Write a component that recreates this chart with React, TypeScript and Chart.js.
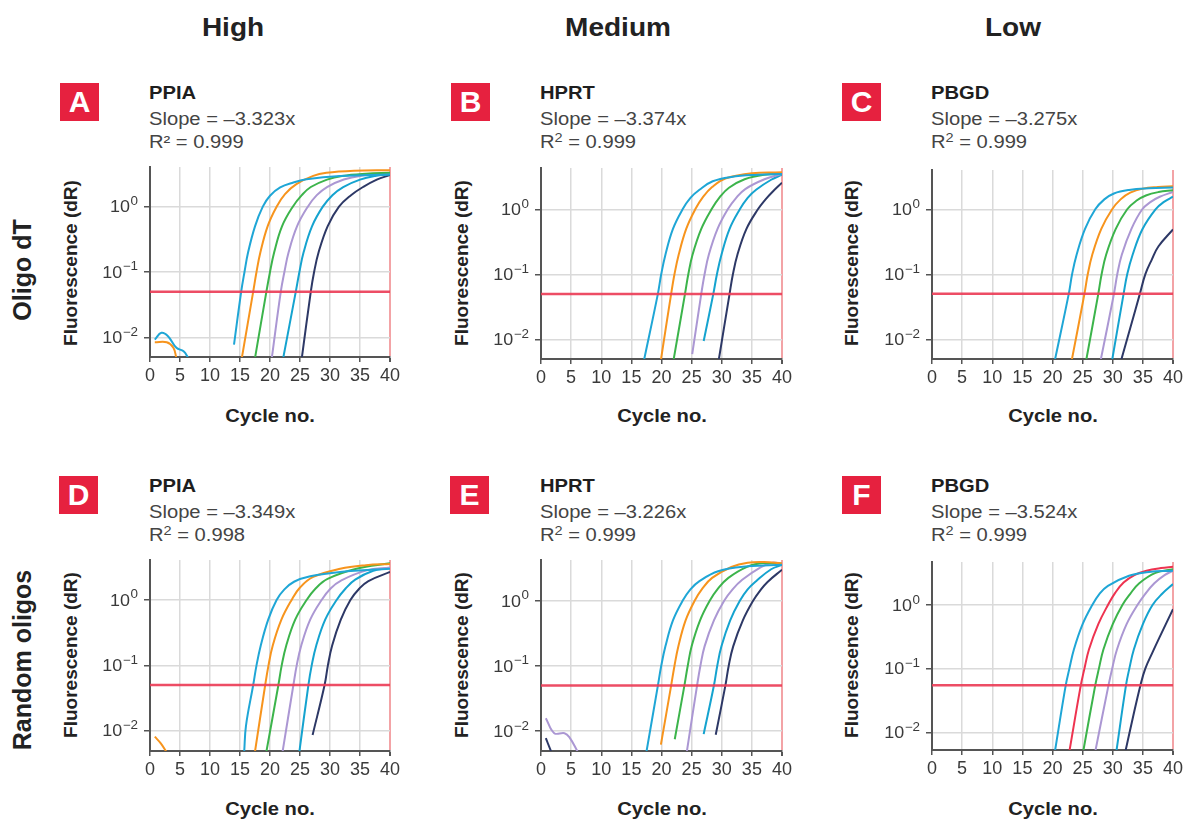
import React, { useEffect, useRef } from 'react';
import { Chart, registerables } from 'chart.js';
Chart.register(...registerables);

type Pt = [number, number];

// ---------- data ----------
const X_TICKS = [0, 5, 10, 15, 20, 25, 30, 35, 40];
const Y_TICKS = [0.01, 0.1, 1];
const Y_TICK_EXP = ['\u22122', '\u22121', '0'];
const COLUMN_HEADERS = ['High', 'Medium', 'Low'];
const ROW_LABELS = ['Oligo dT', 'Random oligos'];
const PANEL_LETTERS = ['A', 'B', 'C', 'D', 'E', 'F'];
const GENES = ['PPIA', 'HPRT', 'PBGD', 'PPIA', 'HPRT', 'PBGD'];
const SLOPES = ['\u20133.323x', '\u20133.374x', '\u20133.275x', '\u20133.349x', '\u20133.226x', '\u20133.524x'];
const R2 = ['0.999', '0.999', '0.999', '0.998', '0.999', '0.999'];
const THRESHOLDS = [0.05, 0.05, 0.05, 0.05, 0.05, 0.055];
const Y_MIN = [0.00499, 0.00498, 0.00498, 0.00489, 0.00495, 0.00527];
const Y_MAX = [4.05, 4.32, 4.02, 4.09, 4.23, 4.74];

const A_CURVES: Pt[][] = [
  [[14.0, 0.0077], [15.2, 0.05], [15.75, 0.1], [16.35, 0.2], [17.5, 0.5], [18.8, 1.0], [20.0, 1.47], [21.7, 1.97], [23.9, 2.34], [26.1, 2.63], [31.7, 2.95], [40, 3.1]],
  [[15.3, 0.0048], [17.2, 0.05], [17.75, 0.1], [18.4, 0.2], [19.6, 0.5], [21.1, 1.0], [22.5, 1.56], [24.4, 2.21], [27.2, 2.96], [29.4, 3.3], [34.0, 3.55], [40, 3.62]],
  [[17.5, 0.0048], [19.4, 0.05], [20.0, 0.1], [20.7, 0.2], [22.0, 0.5], [23.8, 1.0], [25.3, 1.5], [26.8, 2.0], [29.5, 2.6], [32.0, 2.96], [36.0, 3.2], [40, 3.3]],
  [[20.3, 0.0048], [21.8, 0.05], [22.4, 0.1], [23.1, 0.2], [24.5, 0.5], [26.3, 1.0], [27.8, 1.5], [29.5, 2.0], [32.3, 2.6], [35.0, 2.96], [40, 3.2]],
  [[22.2, 0.0048], [24.3, 0.05], [24.9, 0.1], [25.6, 0.2], [27.0, 0.5], [28.8, 1.0], [30.4, 1.5], [32.2, 2.0], [35.0, 2.6], [37.5, 2.96], [40, 3.15]],
  [[25.3, 0.0048], [26.8, 0.05], [27.35, 0.1], [28.1, 0.2], [29.6, 0.5], [31.5, 1.0], [33.5, 1.5], [35.5, 2.0], [37.8, 2.6], [40, 3.05]],
];
const B_CURVES: Pt[][] = [
  [[17.1, 0.0048], [19.4, 0.05], [19.95, 0.1], [20.65, 0.2], [21.9, 0.5], [23.5, 1.0], [24.8, 1.5], [26.3, 2.0], [28.5, 2.7], [31.6, 3.15], [36.0, 3.4], [40, 3.5]],
  [[19.9, 0.0048], [21.6, 0.05], [22.15, 0.1], [22.85, 0.2], [24.1, 0.5], [25.6, 1.0], [26.9, 1.55], [28.4, 2.2], [30.7, 3.0], [35.0, 3.6], [40, 3.7]],
  [[22.0, 0.0048], [23.9, 0.05], [24.45, 0.1], [25.15, 0.2], [26.6, 0.5], [28.3, 1.0], [29.7, 1.55], [31.2, 2.15], [33.8, 2.9], [37.0, 3.4], [40, 3.5]],
  [[25.1, 0.0059], [26.6, 0.05], [27.15, 0.1], [27.85, 0.2], [29.3, 0.5], [31.0, 1.0], [32.4, 1.5], [33.9, 2.05], [37.1, 2.9], [40, 3.5]],
  [[27.0, 0.0094], [28.6, 0.05], [29.2, 0.1], [29.95, 0.2], [31.3, 0.5], [33.0, 1.0], [34.3, 1.5], [35.7, 2.0], [38.2, 2.85], [40, 3.4]],
  [[29.5, 0.0048], [31.3, 0.05], [31.85, 0.1], [32.6, 0.2], [34.1, 0.5], [36.0, 1.0], [37.2, 1.4], [38.4, 1.85], [40, 2.57]],
];
const C_CURVES: Pt[][] = [
  [[20.4, 0.0048], [22.7, 0.05], [23.25, 0.1], [24.0, 0.2], [25.4, 0.5], [27.1, 1.0], [28.6, 1.42], [30.2, 1.75], [32.7, 1.98], [36.0, 2.1], [40, 2.16]],
  [[23.2, 0.0048], [25.3, 0.05], [25.85, 0.1], [26.6, 0.2], [28.1, 0.5], [29.9, 1.0], [31.3, 1.42], [32.9, 1.8], [35.0, 2.08], [37.5, 2.2], [40, 2.26]],
  [[25.6, 0.0048], [27.6, 0.05], [28.15, 0.1], [28.9, 0.2], [30.5, 0.5], [32.4, 1.0], [33.9, 1.35], [35.5, 1.63], [37.6, 1.84], [40, 1.97]],
  [[28.0, 0.0048], [30.2, 0.05], [30.75, 0.1], [31.5, 0.2], [33.1, 0.5], [34.9, 1.0], [36.3, 1.3], [37.8, 1.56], [40, 1.85]],
  [[29.9, 0.0048], [31.8, 0.05], [32.4, 0.1], [33.3, 0.2], [34.9, 0.49], [37.1, 1.0], [38.5, 1.3], [40, 1.56]],
  [[31.4, 0.0048], [33.0, 0.016], [34.5, 0.05], [35.4, 0.1], [36.5, 0.17], [37.6, 0.27], [40, 0.49]],
];
const D_CURVES: Pt[][] = [
  [[15.7, 0.0048], [16.0, 0.012], [17.2, 0.05], [17.75, 0.1], [18.45, 0.2], [19.7, 0.5], [21.1, 1.0], [22.4, 1.45], [24.0, 1.9], [26.7, 2.3], [31.7, 2.68], [40, 3.0]],
  [[17.5, 0.0048], [19.2, 0.05], [19.75, 0.1], [20.45, 0.2], [21.9, 0.5], [23.6, 1.0], [25.0, 1.55], [27.2, 2.25], [31.7, 3.0], [36.0, 3.4], [40, 3.55]],
  [[19.4, 0.0048], [21.4, 0.05], [21.95, 0.1], [22.7, 0.2], [24.2, 0.5], [26.1, 1.0], [27.6, 1.5], [29.6, 2.1], [34.4, 3.0], [40, 3.65]],
  [[22.1, 0.0048], [23.9, 0.05], [24.45, 0.1], [25.2, 0.2], [26.7, 0.5], [28.6, 1.0], [30.1, 1.5], [31.9, 2.0], [36.1, 2.84], [40, 3.15]],
  [[24.9, 0.0048], [26.4, 0.05], [26.95, 0.1], [27.7, 0.2], [29.2, 0.5], [31.1, 1.0], [32.6, 1.5], [34.2, 2.05], [37.2, 2.8], [40, 3.1]],
  [[27.1, 0.0086], [29.1, 0.05], [29.65, 0.1], [30.35, 0.2], [31.8, 0.5], [33.4, 1.0], [34.9, 1.5], [36.4, 1.95], [40, 2.68]],
];
const E_CURVES: Pt[][] = [
  [[17.5, 0.0048], [19.4, 0.05], [19.95, 0.1], [20.65, 0.2], [21.9, 0.5], [23.5, 1.0], [24.8, 1.5], [26.3, 2.0], [29.4, 2.84], [34.3, 3.38], [40, 3.58]],
  [[19.9, 0.0062], [21.6, 0.05], [22.15, 0.1], [22.8, 0.2], [24.0, 0.5], [25.5, 1.0], [26.8, 1.55], [28.4, 2.25], [31.6, 3.3], [34.3, 3.85], [37.0, 3.95], [40, 3.75]],
  [[22.2, 0.0075], [23.8, 0.05], [24.35, 0.1], [25.0, 0.2], [26.4, 0.5], [28.0, 1.0], [29.4, 1.55], [31.1, 2.25], [34.3, 3.35], [37.0, 3.8], [40, 3.7]],
  [[24.2, 0.0048], [25.9, 0.05], [26.45, 0.1], [27.15, 0.2], [28.7, 0.5], [30.4, 1.0], [31.8, 1.5], [33.4, 2.1], [36.5, 3.3], [38.4, 3.85], [40, 3.7]],
  [[27.0, 0.009], [28.7, 0.05], [29.25, 0.1], [29.95, 0.2], [31.4, 0.5], [33.0, 1.0], [34.3, 1.5], [35.7, 2.0], [38.2, 3.05], [40, 3.55]],
  [[29.0, 0.0088], [30.6, 0.05], [31.15, 0.1], [31.9, 0.2], [33.5, 0.5], [35.2, 1.0], [36.4, 1.45], [37.6, 1.95], [40, 3.0]],
];
const F_CURVES: Pt[][] = [
  [[20.4, 0.005], [22.2, 0.055], [22.8, 0.1], [23.55, 0.2], [25.0, 0.5], [26.6, 1.0], [27.8, 1.5], [29.2, 2.0], [32.7, 2.88], [36.0, 3.3], [40, 3.45]],
  [[22.8, 0.005], [24.7, 0.055], [25.3, 0.1], [26.05, 0.2], [27.6, 0.5], [29.2, 1.0], [30.4, 1.55], [31.8, 2.25], [33.6, 2.95], [35.6, 3.45], [38.0, 3.8], [40, 3.98]],
  [[25.1, 0.005], [27.1, 0.055], [27.7, 0.1], [28.45, 0.2], [30.0, 0.5], [31.6, 1.0], [32.9, 1.5], [34.4, 2.2], [37.1, 3.2], [40, 3.66]],
  [[27.1, 0.005], [29.3, 0.055], [29.9, 0.1], [30.7, 0.2], [32.3, 0.5], [34.1, 1.0], [35.4, 1.5], [36.9, 2.2], [38.6, 2.95], [40, 3.45]],
  [[30.6, 0.005], [32.2, 0.055], [32.75, 0.1], [33.5, 0.2], [35.0, 0.5], [36.6, 1.0], [38.2, 1.5], [40, 2.13]],
  [[32.1, 0.005], [33.4, 0.018], [34.6, 0.055], [35.4, 0.1], [36.6, 0.18], [37.9, 0.33], [40, 0.86]],
];

const A_NOISE_CYAN: Pt[] = [[0.8, 0.0092], [1.9, 0.0117], [3.0, 0.0104], [4.4, 0.0069], [5.6, 0.0061], [6.4, 0.0048]];
const A_NOISE_ORANGE: Pt[] = [[0.8, 0.0084], [2.8, 0.0084], [3.9, 0.0069], [4.4, 0.0048]];
const D_NOISE_ORANGE: Pt[] = [[0.8, 0.0081], [1.8, 0.0064], [2.7, 0.0048]];
const E_NOISE_LAVENDER: Pt[] = [[0.8, 0.0158], [2.2, 0.0093], [3.9, 0.0093], [4.7, 0.0081], [6.1, 0.0048]];
const E_NOISE_NAVY: Pt[] = [[0.8, 0.0078], [1.7, 0.0048]];

// ---------- styles ----------
const CYAN = '#1fa6d6';
const ORANGE = '#f7941d';
const GREEN = '#3cb44b';
const LAVENDER = '#ab97d3';
const CYAN2 = '#15a3cf';
const NAVY = '#2d3866';
const RED_F = '#ee3350';
const STD_COLORS = [CYAN, ORANGE, GREEN, LAVENDER, CYAN2, NAVY];
const F_COLORS = [CYAN, RED_F, GREEN, LAVENDER, CYAN2, NAVY];

const FONT = '"Liberation Sans", Arial, Helvetica, sans-serif';
const SX = 1.12;

const PANELS = [
  { curves: A_CURVES, colors: STD_COLORS, noise: [{ c: CYAN, p: A_NOISE_CYAN }, { c: ORANGE, p: A_NOISE_ORANGE }] },
  { curves: B_CURVES, colors: STD_COLORS, noise: [] as { c: string; p: Pt[] }[] },
  { curves: C_CURVES, colors: STD_COLORS, noise: [] as { c: string; p: Pt[] }[] },
  { curves: D_CURVES, colors: STD_COLORS, noise: [{ c: ORANGE, p: D_NOISE_ORANGE }] },
  { curves: E_CURVES, colors: STD_COLORS, noise: [{ c: LAVENDER, p: E_NOISE_LAVENDER }, { c: NAVY, p: E_NOISE_NAVY }] },
  { curves: F_CURVES, colors: F_COLORS, noise: [] as { c: string; p: Pt[] }[] },
];

// plot rectangles (layout)
const RECTS = [
  { L: 150, R: 390, T: 167, B: 357 },
  { L: 541, R: 782, T: 168, B: 359 },
  { L: 932, R: 1173, T: 170, B: 359 },
  { L: 150, R: 390, T: 560, B: 751 },
  { L: 541, R: 782, T: 560, B: 751 },
  { L: 932, R: 1173, T: 562, B: 750 },
];
const AXIS_W = 60;
const AXIS_H = 30;
const PAD_T = 12;
const PAD_R = 14;

const yLabelPlugin = {
  id: 'yLabels',
  afterDraw(chart: any) {
    const ctx = chart.ctx;
    const ys = chart.scales.y;
    const right = chart.chartArea.left - 12;
    ctx.save();
    ctx.fillStyle = '#3a3a3a';
    ctx.textBaseline = 'alphabetic';
    ctx.textAlign = 'right';
    Y_TICKS.forEach((v, i) => {
      const py = ys.getPixelForValue(v);
      ctx.save();
      ctx.translate(right, py);
      ctx.scale(SX, 1);
      ctx.font = `12px ${FONT}`;
      const sup = Y_TICK_EXP[i];
      const w = ctx.measureText(sup).width;
      ctx.fillText(sup, 0, -1.5);
      ctx.font = `16px ${FONT}`;
      ctx.fillText('10', -w - 0.5, 5.8);
      ctx.restore();
    });
    ctx.restore();
  },
};

function Panel({ idx }: { idx: number }) {
  const ref = useRef<HTMLCanvasElement | null>(null);
  const r = RECTS[idx];
  const w = r.R - r.L + AXIS_W + PAD_R;
  const h = r.B - r.T + PAD_T + AXIS_H;
  useEffect(() => {
    if (!ref.current) return;
    const p = PANELS[idx];
    const datasets: any[] = [];
    datasets.push({
      data: [{ x: 0, y: THRESHOLDS[idx] }, { x: 40, y: THRESHOLDS[idx] }],
      borderColor: 'rgba(236,62,88,0.92)',
      borderWidth: 2.5,
      pointRadius: 0,
      fill: false,
      tension: 0,
    });
    p.curves.forEach((pts, i) => {
      datasets.push({
        data: pts.map(([x, y]) => ({ x, y })),
        borderColor: p.colors[i],
        borderWidth: 2,
        pointRadius: 0,
        fill: false,
        tension: 0.4,
      });
    });
    p.noise.forEach((n) => {
      datasets.push({
        data: n.p.map(([x, y]) => ({ x, y })),
        borderColor: n.c,
        borderWidth: 2,
        pointRadius: 0,
        fill: false,
        tension: 0.4,
      });
    });
    const chart = new Chart(ref.current, {
      type: 'line',
      data: { datasets },
      options: {
        animation: false,
        responsive: false,
        maintainAspectRatio: false,
        events: [],
        layout: { padding: { top: PAD_T, right: PAD_R, left: 0, bottom: 0 } },
        plugins: { legend: { display: false }, tooltip: { enabled: false } },
        scales: {
          x: {
            type: 'linear',
            min: 0,
            max: 40,
            afterBuildTicks: (s: any) => {
              s.ticks = X_TICKS.map((v) => ({ value: v }));
            },
            afterFit: (s: any) => {
              s.height = AXIS_H;
            },
            grid: {
              color: (c: any) => (c.tick && c.tick.value === 40 ? '#f3a3a6' : c.tick && c.tick.value === 0 ? 'rgba(0,0,0,0)' : '#dadada'),
              lineWidth: (c: any) => (c.tick && c.tick.value === 40 ? 2 : 1.5),
              tickColor: '#555',
              tickLength: 5,
              drawTicks: true,
            },
            border: { color: '#555', width: 2 },
            ticks: {
              autoSkip: false,
              maxRotation: 0,
              padding: 3,
              color: '#3a3a3a',
              font: { family: FONT, size: 18 },
            },
          },
          y: {
            type: 'logarithmic',
            min: Y_MIN[idx],
            max: Y_MAX[idx],
            afterBuildTicks: (s: any) => {
              s.ticks = Y_TICKS.map((v) => ({ value: v }));
            },
            afterFit: (s: any) => {
              s.width = AXIS_W;
            },
            grid: { color: '#dadada', lineWidth: 1.5, tickColor: '#555', tickLength: 6, drawTicks: true },
            border: { color: '#555', width: 2 },
            ticks: { display: false },
          },
        },
      } as any,
      plugins: [yLabelPlugin],
    });
    return () => chart.destroy();
  }, [idx]);
  return (
    <canvas
      ref={ref}
      width={w}
      height={h}
      style={{ position: 'absolute', left: r.L - AXIS_W, top: r.T - PAD_T, width: w, height: h }}
    />
  );
}

function Txt(props: {
  x: number;
  y: number;
  size: number;
  bold?: boolean;
  align?: 'left' | 'center';
  color?: string;
  children: React.ReactNode;
}) {
  const { x, y, size, bold, align = 'left', color = '#222', children } = props;
  return (
    <div
      style={{
        position: 'absolute',
        left: x,
        top: y - 0.8465 * size,
        fontFamily: FONT,
        fontSize: size,
        lineHeight: `${size}px`,
        fontWeight: bold ? 700 : 400,
        color,
        whiteSpace: 'nowrap',
        transformOrigin: align === 'left' ? 'left center' : 'center center',
        transform: align === 'left' ? `scaleX(${SX})` : `translateX(-50%) scaleX(${SX})`,
      }}
    >
      {children}
    </div>
  );
}

function VTxt(props: { cx: number; cy: number; size: number; children: React.ReactNode }) {
  const { cx, cy, size, children } = props;
  return (
    <div
      style={{
        position: 'absolute',
        left: cx,
        top: cy,
        fontFamily: FONT,
        fontSize: size,
        lineHeight: `${size}px`,
        fontWeight: 700,
        color: '#222',
        whiteSpace: 'nowrap',
        transformOrigin: 'center center',
        transform: 'translate(-50%,-50%) rotate(-90deg)',
      }}
    >
      {children}
    </div>
  );
}

const HEADER_X = [232.5, 617.5, 1012.5];
const ROW_CY = [270, 660];
const BOX_POS = [
  [60, 83],
  [451, 83],
  [842, 83],
  [59, 476],
  [450, 476],
  [842, 476],
];
const TITLE_BASE = [99, 492];
const YTITLE_X = [70, 461, 851];
const YTITLE_CY = [263, 655];
const XTITLE_BASE = [422, 815];

export default function App() {
  return (
    <div style={{ position: 'absolute', left: 0, top: 0, width: 1186, height: 821, background: '#fff', overflow: 'hidden' }}>
      {COLUMN_HEADERS.map((t, i) => (
        <Txt key={t} x={HEADER_X[i]} y={36} size={25} bold align="center">
          {t}
        </Txt>
      ))}
      {ROW_LABELS.map((t, i) => (
        <VTxt key={t} cx={22} cy={ROW_CY[i]} size={25}>
          {t}
        </VTxt>
      ))}
      {PANEL_LETTERS.map((letter, i) => {
        const row = Math.floor(i / 3);
        const col = i % 3;
        const r = RECTS[i];
        const [bx, by] = BOX_POS[i];
        return (
          <React.Fragment key={letter}>
            <div
              style={{
                position: 'absolute',
                left: bx,
                top: by,
                width: 39,
                height: 38,
                background: '#e6213f',
                color: '#fff',
                fontFamily: FONT,
                fontWeight: 700,
                fontSize: 30,
                lineHeight: '38px',
                textAlign: 'center',
              }}
            >
              {letter}
            </div>
            <Txt x={r.L - 1} y={TITLE_BASE[row]} size={18} bold color="#1e1e1e">
              {GENES[i]}
            </Txt>
            <Txt x={r.L - 1} y={TITLE_BASE[row] + 26} size={18} color="#444">
              {'Slope = ' + SLOPES[i]}
            </Txt>
            <Txt x={r.L - 1} y={TITLE_BASE[row] + 49.5} size={18} color="#444">
              {i === 0 ? (
                'R\u00b2 = ' + R2[i]
              ) : (
                <>
                  R<span style={{ fontSize: '0.72em', position: 'relative', top: '-0.5em' }}>2</span>
                  {' = ' + R2[i]}
                </>
              )}
            </Txt>
            <VTxt cx={YTITLE_X[col]} cy={YTITLE_CY[row]} size={19}>
              Fluorescence (dR)
            </VTxt>
            <Txt x={(r.L + r.R) / 2} y={XTITLE_BASE[row]} size={18} bold align="center">
              Cycle no.
            </Txt>
            <Panel idx={i} />
          </React.Fragment>
        );
      })}
    </div>
  );
}
